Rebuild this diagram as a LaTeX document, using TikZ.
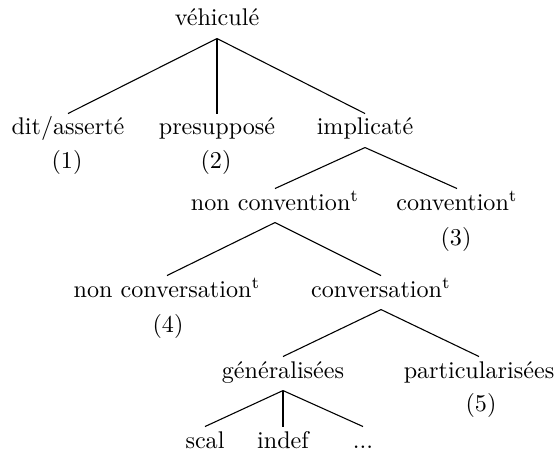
\documentclass[tikz,border=0pt]{standalone}
\begin{document}
\begin{tikzpicture}[x=0.4145pt,y=-0.4145pt,
  lbl/.style={inner sep=0pt, text height=8.7pt, text depth=5pt, anchor=base},
  num/.style={inner sep=0pt, anchor=base},
  edge/.style={line width=0.45pt},
  thickedge/.style={line width=1.1pt}]
\useasboundingbox (0,0) rectangle (556,454);
% level 0
\node[lbl] (veh) at (217,26) {véhiculé};
% level 1
\node[lbl] (dit) at (68,135) {dit/asserté};
\node[lbl] (pre) at (217,135) {presupposé};
\node[lbl] (imp) at (365,135) {implicaté};
\node[num] (n1) at (67,168) {(1)};
\node[num] (n2) at (216,168) {(2)};
% level 2
\node[lbl] (nconv) at (275,210) {non convention\textsuperscript{t}};
\node[lbl] (conv) at (457,210) {convention\textsuperscript{t}};
\node[num] (n3) at (456,245) {(3)};
% level 3
\node[lbl] (nconvers) at (167,297) {non conversation\textsuperscript{t}};
\node[lbl] (convers) at (381,297) {conversation\textsuperscript{t}};
\node[num] (n4) at (168,332) {(4)};
% level 4
\node[lbl] (gen) at (283,378) {généralisées};
\node[lbl] (part) at (479,378) {particularisées};
\node[num] (n5) at (481,411) {(5)};
% level 5
\node[lbl] (scal) at (205,448) {scal};
\node[lbl] (indef) at (283,448) {indef};
\node[lbl] (dots) at (363,448) {...};
% edges
\draw[edge] (veh.south) -- (dit.north);
\draw[thickedge] (veh.south) -- (pre.north);
\draw[edge] (veh.south) -- (imp.north);
\draw[edge] (imp.south) -- (nconv.north);
\draw[edge] (imp.south) -- (conv.north);
\draw[edge] (nconv.south) -- (nconvers.north);
\draw[edge] (nconv.south) -- (convers.north);
\draw[edge] (convers.south) -- (gen.north);
\draw[edge] (convers.south) -- (part.north);
\draw[edge] (gen.south) -- (scal.north);
\draw[thickedge] (gen.south) -- (indef.north);
\draw[edge] (gen.south) -- (dots.north);
\end{tikzpicture}
\end{document}
